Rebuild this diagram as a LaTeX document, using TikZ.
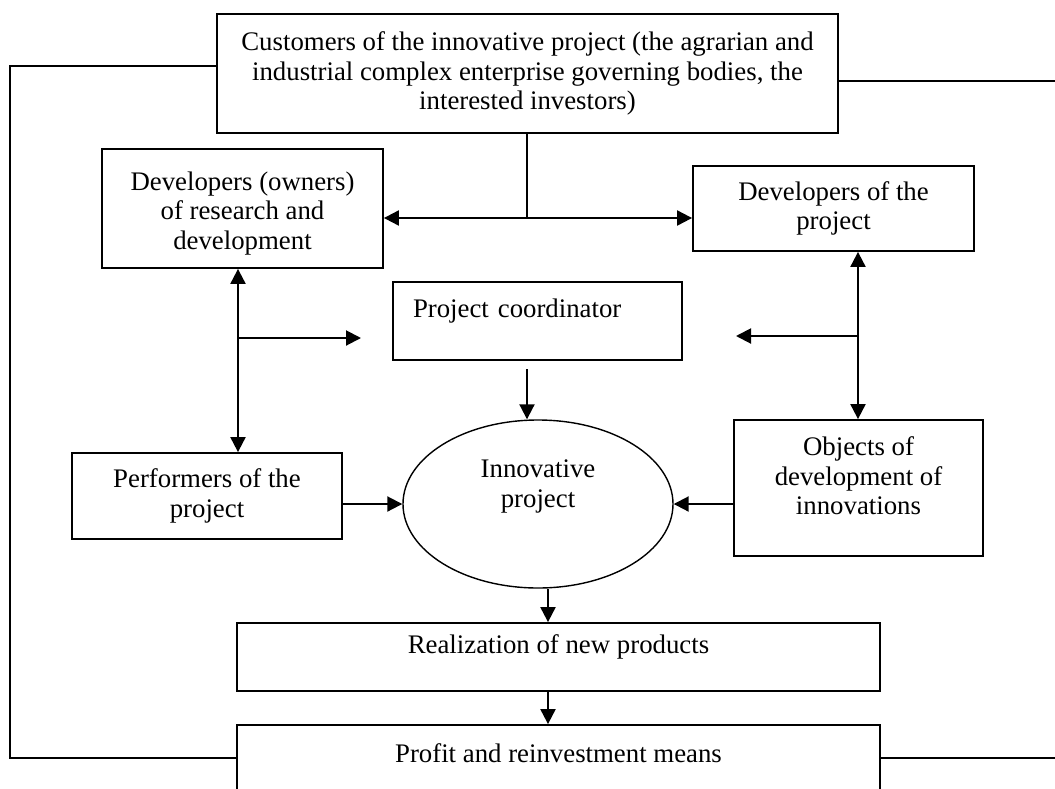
\documentclass[tikz,border=0pt]{standalone}
\usepackage{fontspec}
\setmainfont{Liberation Serif}
\usetikzlibrary{arrows.meta, shapes.geometric}
\tikzstyle{box} = [draw, line width=0.9pt, inner sep=0mm, align=center, font=\fontsize{13.4}{14.8}\selectfont]
\tikzstyle{oval} = [draw, ellipse, line width=0.7pt, inner sep=0mm, align=center, font=\fontsize{13.4}{14.8}\selectfont]
\tikzstyle{link} = [line width=1pt]
\tikzstyle{arr} = [link, -{Triangle[length=7.5pt, width=7.5pt]}]
\tikzstyle{darr} = [link, {Triangle[length=7.5pt, width=7.5pt]}-{Triangle[length=7.5pt, width=7.5pt]}]

\begin{document}
\begin{tikzpicture}[x=0.5pt, y=-0.5pt]
    \clip (0,0) rectangle (1055,788);
    %\draw[help lines, step=50] (0,0) grid (1055,788);
    \node[box, minimum width=310.5pt, minimum height=59.5pt] (cust) at (527.5,73.5)
        {Customers of the innovative project (the agrarian and\\industrial complex enterprise governing bodies, the\\interested investors)};
    \node[box, minimum width=140.5pt, minimum height=59.5pt, text height=43.6pt, text depth=2.9pt] (devrd) at (242.5,208.5)
        {Developers (owners)\\of research and\\development};
    \node[box, minimum width=140.5pt, minimum height=42.5pt] (devpr) at (833.5,208.5)
        {Developers of the\\project};
    \node[box, minimum width=144.5pt, minimum height=39pt, text width=124.5pt, align=left,
        inner xsep=10pt, text height=9.2pt, text depth=12.5pt] (coord) at (537.5,321)
        {Project coordinator};
    \node[oval, minimum width=135pt, minimum height=84pt, text height=24pt, text depth=20.7pt] (innov) at (538,504)
        {Innovative\\project};
    \node[box, minimum width=135pt, minimum height=43pt] (perf) at (207,496)
        {Performers of the\\project};
    \node[box, minimum width=124.5pt, minimum height=68pt, text height=38.8pt, text depth=11.9pt] (obj) at (858.5,488)
        {Objects of\\development of\\innovations};
    \node[box, minimum width=321.5pt, minimum height=34pt, text height=9.2pt, text depth=13.2pt] (real) at (558.5,657)
        {Realization of new products};
    \node[box, minimum width=321.5pt, minimum height=50pt, text height=9.2pt, text depth=21.5pt] (profit) at (558.5,775)
        {Profit and reinvestment means};

    % junctions and free ends
    \coordinate (jt) at (527,218);
    \coordinate (lj) at (238,338);
    \coordinate (le) at (361,338);
    \coordinate (rj) at (858,336);
    \coordinate (re) at (736,336);
    \coordinate (ct) at (527,369);
    \coordinate (fl) at (9.5,758);
    \coordinate (fr) at (1055,758);

    \draw[link] (jt |- cust.south) -- (jt);
    \draw[darr] (devrd.east |- jt) -- (devpr.west |- jt);
    \draw[darr] (lj |- devrd.south) -- (lj |- perf.north);
    \draw[arr] (lj) -- (le);
    \draw[darr] (rj |- devpr.south) -- (rj |- obj.north);
    \draw[arr] (rj) -- (re);
    \draw[arr] (ct) -- (ct |- innov.north);
    \draw[arr] (perf.east |- innov.west) -- (innov.west);
    \draw[arr] (obj.west |- innov.east) -- (innov.east);
    \draw[arr] ([xshift=5pt]innov.south) -- ([xshift=5pt]innov.south |- real.north);
    \draw[arr] ([xshift=5pt]innov.south |- real.south) -- ([xshift=5pt]innov.south |- profit.north);

    % feedback
    \draw[link] (cust.west |- 0,66) -| (fl) -- (profit.west |- fl);
    \draw[link] (cust.east |- 0,81) -- (fr |- 0,81);
    \draw[link] (profit.east |- fr) -- (fr);
\end{tikzpicture}
\end{document}
